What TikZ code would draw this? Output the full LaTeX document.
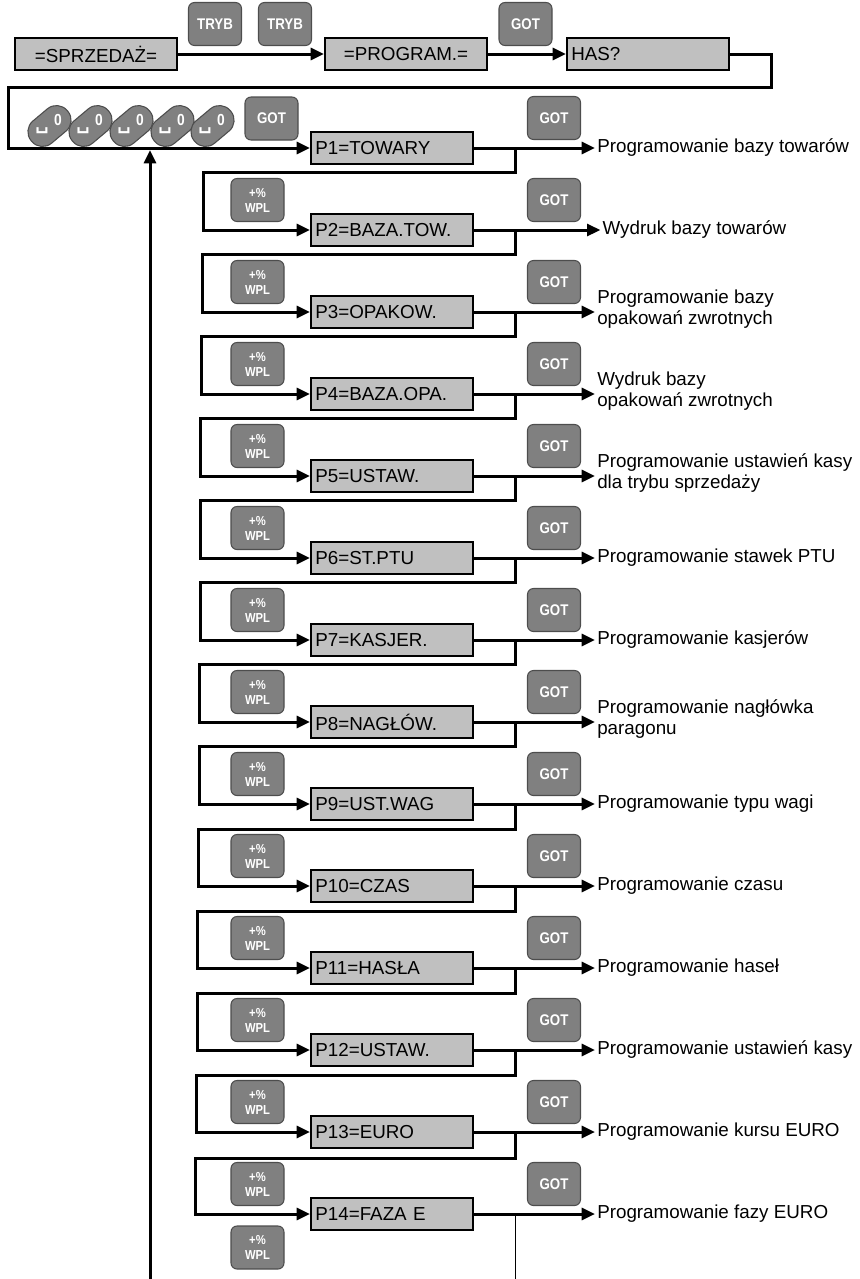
\documentclass[tikz,border=0pt]{standalone}
\usepackage{fontspec}
\setmainfont{Liberation Sans}
\newfontfamily\klawfont[FakeStretch=0.86]{Liberation Sans}
\newfontfamily\znakfont{DejaVu Sans}
\usetikzlibrary{positioning, arrows.meta}
\definecolor{klawiszkol}{HTML}{808080}
\definecolor{klawiszbrzeg}{HTML}{4D4D4D}
\definecolor{ekrankol}{HTML}{C0C0C0}
\tikzset{
	>={Triangle[length=10pt, width=9pt]},
	% komunikat na wyswietlaczu
	ekran/.style={draw=black, line width=1.5pt, fill=ekrankol, minimum width=121.5pt, minimum height=24pt,
	              inner sep=3pt, font=\fontsize{14.1}{16}\selectfont},
	% komunikat wyrownany do lewej
	ekranL/.style={ekran, text width=115pt, align=left},
	% klawisz kasy
	klawisz/.style={draw=klawiszbrzeg, line width=0.8pt, fill=klawiszkol, rounded corners=4.5pt,
	                minimum width=39.75pt, minimum height=32.25pt, inner sep=1pt, text=white,
	                align=center, font=\klawfont\bfseries\fontsize{11.6}{12}\selectfont},
	wpl/.style={klawisz, font=\klawfont\bfseries\fontsize{9.8}{11.2}\selectfont},
	% klawisz cyfry (skosny)
	zero/.style={draw=klawiszbrzeg, line width=0.8pt, fill=klawiszkol, rounded corners=10.5pt,
	             minimum width=35.25pt, minimum height=21.75pt, inner sep=0pt, rotate=40},
	zerotxt/.style={text=white, inner sep=0pt, font=\klawfont\bfseries\fontsize{12}{13}\selectfont},
	spacja/.style={text=white, inner sep=0pt, font=\znakfont\bfseries\fontsize{14}{14}\selectfont},
	% opis funkcji
	opis/.style={anchor=west, inner sep=1.5pt, align=left, font=\fontsize{14.1}{15.5}\selectfont},
	% przejscie
	bus/.style={->, line width=2.25pt},
	cienka/.style={line width=0.75pt},
}

\begin{document}
\begin{tikzpicture}[x=0.75pt, y=-0.75pt]
    \useasboundingbox (0,0) rectangle (860,1279);

    % tryb pracy
    \node[ekran] (sprz) at (96,54) {=SPRZEDAŻ=};
    \node[ekran] (prog) at (406,54) {=PROGRAM.=};
    \node[ekranL] (has) at (648,54) {HAS?};
    \node[klawisz] (tryb1) at (215,24) {TRYB};
    \node[klawisz] (tryb2) at (285,24) {TRYB};
    \node[klawisz] (gotH) at (525.5,24) {GOT};
    \draw[bus] (sprz) -- (prog);
    \draw[bus] (prog) -- (has);

    % haslo
    \coordinate (petlaP) at (771,87);
    \coordinate (petlaL) at (8,87);
    \coordinate (pion) at (515,0);
    \node[zero] (k1) at (49.5,126) {};
    \node[zero] (k2) at (90.5,126) {};
    \node[zero] (k3) at (131.5,126) {};
    \node[zero] (k4) at (172.5,126) {};
    \node[zero] (k5) at (212.5,126) {};
    \node[zerotxt] (k1z) at (58,120) {0};
    \node[zerotxt] (k2z) at (99,120) {0};
    \node[zerotxt] (k3z) at (140,120) {0};
    \node[zerotxt] (k4z) at (181,120) {0};
    \node[zerotxt] (k5z) at (221,120) {0};
    \node[spacja] (k1s) at (42,131) {␣};
    \node[spacja] (k2s) at (83,131) {␣};
    \node[spacja] (k3s) at (124,131) {␣};
    \node[spacja] (k4s) at (165,131) {␣};
    \node[spacja] (k5s) at (205,131) {␣};
    \node[klawisz] (got0) at (271.5,118.5) {GOT};

    % P1
    \node[ekranL] (p1) at (392,148) {P1=TOWARY};
    \node[klawisz] (got1) at (554,118) {GOT};
    \node[opis] (o1) at (595,148) {Programowanie bazy towarów};
    \draw[bus] (has) -| (petlaP) -- (petlaL) |- (p1);
    \draw[bus] (p1) -- (p1 -| o1.west);

    % P2
    \node[ekranL] (p2) at (392,230) {P2=BAZA.TOW.};
    \node[wpl] (wpl2) at (257.5,200) {+\%\\WPL};
    \node[klawisz] (got2) at (554,200) {GOT};
    \node[opis, xshift=4pt] (o2) at (595,230) {Wydruk bazy towarów};
    \coordinate (z1) at (203,172);
    \draw[bus] (p1 -| pion) |- (z1) |- (p2);
    \draw[bus] (p2) -- (p2 -| o2.west);

    % P3
    \node[ekranL] (p3) at (392,312) {P3=OPAKOW.};
    \node[wpl] (wpl3) at (257.5,282) {+\%\\WPL};
    \node[klawisz] (got3) at (554,282) {GOT};
    \node[opis, yshift=2pt] (o3) at (595,312) {Programowanie bazy\\opakowań zwrotnych};
    \coordinate (z2) at (202,254);
    \draw[bus] (p2 -| pion) |- (z2) |- (p3);
    \draw[bus] (p3) -- (p3 -| o3.west);

    % P4
    \node[ekranL] (p4) at (392,394) {P4=BAZA.OPA.};
    \node[wpl] (wpl4) at (257.5,364) {+\%\\WPL};
    \node[klawisz] (got4) at (554,364) {GOT};
    \node[opis, yshift=2pt] (o4) at (595,394) {Wydruk bazy\\opakowań zwrotnych};
    \coordinate (z3) at (201,336);
    \draw[bus] (p3 -| pion) |- (z3) |- (p4);
    \draw[bus] (p4) -- (p4 -| o4.west);

    % P5
    \node[ekranL] (p5) at (392,476) {P5=USTAW.};
    \node[wpl] (wpl5) at (257.5,446) {+\%\\WPL};
    \node[klawisz] (got5) at (554,446) {GOT};
    \node[opis, yshift=2pt] (o5) at (595,476) {Programowanie ustawień kasy\\dla trybu sprzedaży};
    \coordinate (z4) at (200,418);
    \draw[bus] (p4 -| pion) |- (z4) |- (p5);
    \draw[bus] (p5) -- (p5 -| o5.west);

    % P6
    \node[ekranL] (p6) at (392,558) {P6=ST.PTU};
    \node[wpl] (wpl6) at (257.5,528) {+\%\\WPL};
    \node[klawisz] (got6) at (554,528) {GOT};
    \node[opis] (o6) at (595,558) {Programowanie stawek PTU};
    \coordinate (z5) at (200,500);
    \draw[bus] (p5 -| pion) |- (z5) |- (p6);
    \draw[bus] (p6) -- (p6 -| o6.west);

    % P7
    \node[ekranL] (p7) at (392,640) {P7=KASJER.};
    \node[wpl] (wpl7) at (257.5,610) {+\%\\WPL};
    \node[klawisz] (got7) at (554,610) {GOT};
    \node[opis] (o7) at (595,640) {Programowanie kasjerów};
    \coordinate (z6) at (200,582);
    \draw[bus] (p6 -| pion) |- (z6) |- (p7);
    \draw[bus] (p7) -- (p7 -| o7.west);

    % P8
    \node[ekranL] (p8) at (392,722) {P8=NAGŁÓW.};
    \node[wpl] (wpl8) at (257.5,692) {+\%\\WPL};
    \node[klawisz] (got8) at (554,692) {GOT};
    \node[opis, yshift=2pt] (o8) at (595,722) {Programowanie nagłówka\\paragonu};
    \coordinate (z7) at (199,664);
    \draw[bus] (p7 -| pion) |- (z7) |- (p8);
    \draw[bus] (p8) -- (p8 -| o8.west);

    % P9
    \node[ekranL] (p9) at (392,804) {P9=UST.WAG};
    \node[wpl] (wpl9) at (257.5,774) {+\%\\WPL};
    \node[klawisz] (got9) at (554,774) {GOT};
    \node[opis] (o9) at (595,804) {Programowanie typu wagi};
    \coordinate (z8) at (199,746);
    \draw[bus] (p8 -| pion) |- (z8) |- (p9);
    \draw[bus] (p9) -- (p9 -| o9.west);

    % P10
    \node[ekranL] (p10) at (392,886) {P10=CZAS};
    \node[wpl] (wpl10) at (257.5,856) {+\%\\WPL};
    \node[klawisz] (got10) at (554,856) {GOT};
    \node[opis] (o10) at (595,886) {Programowanie czasu};
    \coordinate (z9) at (198,829);
    \draw[bus] (p9 -| pion) |- (z9) |- (p10);
    \draw[bus] (p10) -- (p10 -| o10.west);

    % P11
    \node[ekranL] (p11) at (392,968) {P11=HASŁA};
    \node[wpl] (wpl11) at (257.5,938) {+\%\\WPL};
    \node[klawisz] (got11) at (554,938) {GOT};
    \node[opis] (o11) at (595,968) {Programowanie haseł};
    \coordinate (z10) at (197,911);
    \draw[bus] (p10 -| pion) |- (z10) |- (p11);
    \draw[bus] (p11) -- (p11 -| o11.west);

    % P12
    \node[ekranL] (p12) at (392,1050) {P12=USTAW.};
    \node[wpl] (wpl12) at (257.5,1020) {+\%\\WPL};
    \node[klawisz] (got12) at (554,1020) {GOT};
    \node[opis] (o12) at (595,1050) {Programowanie ustawień kasy};
    \coordinate (z11) at (197,993);
    \draw[bus] (p11 -| pion) |- (z11) |- (p12);
    \draw[bus] (p12) -- (p12 -| o12.west);

    % P13
    \node[ekranL] (p13) at (392,1132) {P13=EURO};
    \node[wpl] (wpl13) at (257.5,1102) {+\%\\WPL};
    \node[klawisz] (got13) at (554,1102) {GOT};
    \node[opis] (o13) at (595,1132) {Programowanie kursu EURO};
    \coordinate (z12) at (196,1075);
    \draw[bus] (p12 -| pion) |- (z12) |- (p13);
    \draw[bus] (p13) -- (p13 -| o13.west);

    % P14
    \node[ekranL] (p14) at (392,1214) {P14=FAZA E};
    \node[wpl] (wpl14) at (257.5,1184) {+\%\\WPL};
    \node[klawisz] (got14) at (554,1184) {GOT};
    \node[opis] (o14) at (595,1214) {Programowanie fazy EURO};
    \coordinate (z13) at (195,1158);
    \draw[bus] (p13 -| pion) |- (z13) |- (p14);
    \draw[bus] (p14) -- (p14 -| o14.west);

    % powrot do P1
    \node[wpl] (wpl15) at (257.5,1247.5) {+\%\\WPL};
    \coordinate (dolL) at (150,1279);
    \coordinate (powrot) at (150,150);
    \coordinate (dolP) at (515,1279);
    \draw[bus] (dolL) -- (powrot);
    \draw[cienka] (p14 -| pion) -- (dolP);
\end{tikzpicture}
\end{document}
